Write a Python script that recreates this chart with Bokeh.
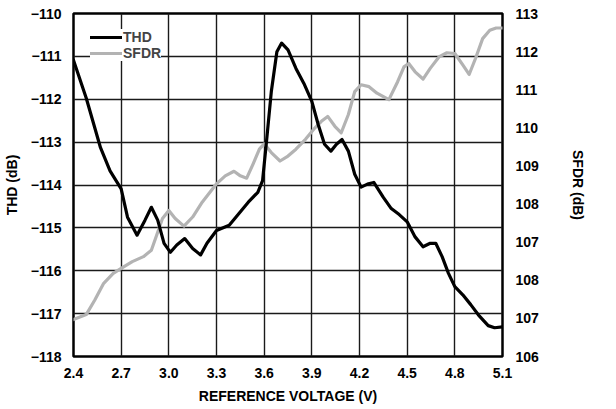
import math
from bokeh.plotting import figure
from bokeh.models import (Range1d, LinearAxis, FixedTicker, NumeralTickFormatter,
                          Legend, LegendItem, Label)
from bokeh.embed import file_html
from bokeh.resources import INLINE

# ---- data ----
x_ticks = [2.4, 2.7, 3.0, 3.3, 3.6, 3.9, 4.2, 4.5, 4.8, 5.1]
thd_ticks = [-118, -117, -116, -115, -114, -113, -112, -111, -110]
sfdr_ticks = [104, 105, 106, 107, 108, 109, 110, 111, 112, 113]
sfdr_tick_labels = ["106", "107", "108", "107", "108", "109", "110", "111", "112", "113"]

thd_v = [2.40, 2.48, 2.57, 2.63, 2.70, 2.74, 2.80, 2.85, 2.89, 2.93,
         2.97, 3.01, 3.05, 3.10, 3.15, 3.20, 3.24, 3.30, 3.38, 3.44,
         3.50, 3.56, 3.59, 3.615, 3.645, 3.68, 3.71, 3.75, 3.80, 3.85,
         3.90, 3.94, 3.98, 4.02, 4.055, 4.09, 4.13, 4.17, 4.21, 4.25,
         4.29, 4.35, 4.40, 4.45, 4.50, 4.55, 4.60, 4.645, 4.68, 4.72,
         4.76, 4.80, 4.85, 4.90, 4.955, 5.01, 5.05, 5.10]
thd_db = [-111.09, -111.97, -113.13, -113.67, -114.09, -114.75, -115.17, -114.82, -114.52, -114.82,
          -115.36, -115.57, -115.40, -115.25, -115.48, -115.63, -115.36, -115.06, -114.94, -114.67,
          -114.40, -114.17, -113.90, -112.97, -111.82, -110.89, -110.69, -110.85, -111.28, -111.63,
          -112.05, -112.59, -113.05, -113.21, -113.05, -112.94, -113.21, -113.75, -114.05, -113.98,
          -113.94, -114.29, -114.55, -114.69, -114.86, -115.21, -115.44, -115.36, -115.36, -115.67,
          -116.06, -116.37, -116.56, -116.79, -117.06, -117.28, -117.33, -117.31]

sfdr_v = [2.40, 2.48, 2.535, 2.59, 2.65, 2.70, 2.77, 2.84, 2.89, 2.92,
          2.96, 3.00, 3.04, 3.095, 3.15, 3.21, 3.30, 3.355, 3.41, 3.45,
          3.49, 3.53, 3.57, 3.60, 3.645, 3.70, 3.75, 3.80, 3.86, 3.92,
          3.96, 4.00, 4.045, 4.085, 4.13, 4.17, 4.21, 4.26, 4.31, 4.385,
          4.44, 4.48, 4.51, 4.55, 4.60, 4.645, 4.70, 4.75, 4.80, 4.85,
          4.89, 4.93, 4.975, 5.02, 5.06, 5.10]
sfdr_db = [104.97, 105.10, 105.49, 105.92, 106.18, 106.31, 106.49, 106.62, 106.79, 107.14,
           107.62, 107.83, 107.62, 107.42, 107.66, 108.05, 108.53, 108.74, 108.86, 108.74,
           108.68, 109.05, 109.44, 109.58, 109.35, 109.13, 109.26, 109.44, 109.70, 110.00,
           110.17, 110.30, 110.04, 109.87, 110.35, 110.95, 111.13, 111.08, 110.91, 110.74,
           111.21, 111.60, 111.69, 111.47, 111.28, 111.56, 111.86, 111.97, 111.95, 111.65,
           111.40, 111.82, 112.34, 112.56, 112.62, 112.62]

FONT = "Liberation Sans"

p = figure(width=600, height=406, output_backend="svg", toolbar_location=None,
           x_range=Range1d(2.4, 5.1), y_range=Range1d(-118, -110),
           min_border_left=68, min_border_right=98, min_border_top=13, min_border_bottom=47)
p.extra_y_ranges = {"sfdr": Range1d(104, 113)}
p.outline_line_color = "black"
p.outline_line_width = 2.5
p.background_fill_color = "white"
p.border_fill_color = "white"

def style_axis(ax):
    ax.axis_line_color = None
    ax.major_tick_line_color = None
    ax.minor_tick_line_color = None
    ax.major_label_text_font = FONT
    ax.major_label_text_font_style = "bold"
    ax.major_label_text_font_size = "14px"
    ax.major_label_text_color = "black"
    ax.axis_label_text_font = FONT
    ax.axis_label_text_font_style = "bold"
    ax.axis_label_text_font_size = "14px"
    ax.axis_label_text_color = "black"

# bottom axis
xa = p.xaxis[0]
xa.ticker = FixedTicker(ticks=x_ticks)
xa.formatter = NumeralTickFormatter(format="0.0")
xa.axis_label = "REFERENCE VOLTAGE (V)"
style_axis(xa)
xa.major_label_standoff = 5
xa.axis_label_standoff = 7

# left axis
ya = p.yaxis[0]
ya.ticker = FixedTicker(ticks=thd_ticks)
ya.major_label_overrides = {t: "\u2212" + str(abs(t)) for t in thd_ticks}
ya.axis_label = "THD (dB)"
style_axis(ya)
ya.major_label_standoff = 6
ya.axis_label_standoff = 8

# right axis
ra = LinearAxis(y_range_name="sfdr", ticker=FixedTicker(ticks=sfdr_ticks),
                axis_label="SFDR (dB)")
ra.major_label_overrides = {t: lab for t, lab in zip(sfdr_ticks, sfdr_tick_labels)}
style_axis(ra)
ra.major_label_standoff = 7
ra.axis_label_standoff = 28
p.add_layout(ra, "right")

# grid
p.xgrid.ticker = FixedTicker(ticks=x_ticks)
p.ygrid.ticker = FixedTicker(ticks=thd_ticks)
for g in (p.xgrid[0], p.ygrid[0]):
    g.grid_line_color = "#1a1a1a"
    g.grid_line_width = 1.4
    g.grid_line_alpha = 1.0

r_sfdr = p.line(sfdr_v, sfdr_db, y_range_name="sfdr", line_color="#b3b3b3",
                line_width=3.2, line_join="round", line_cap="round")
r_thd = p.line(thd_v, thd_db, line_color="black", line_width=3.2,
               line_join="round", line_cap="round")

legend = Legend(items=[LegendItem(label="THD", renderers=[r_thd]),
                       LegendItem(label="SFDR", renderers=[r_sfdr])],
                location=(17, 295), margin=0, padding=7, spacing=0,
                label_text_font=FONT, label_text_font_style="bold",
                label_text_font_size="14px", label_height=16, glyph_height=16,
                glyph_width=32, label_standoff=1,
                background_fill_color="white", background_fill_alpha=1.0,
                border_line_color=None)
p.add_layout(legend)

p.add_layout(Label(x=5.655, y=-118.95, text="216",
                   angle=math.pi / 2, text_align="left", text_baseline="middle",
                   text_font=FONT, text_font_size="10px", text_color="#555555"))

open("out.html", "w").write(file_html(p, INLINE))
